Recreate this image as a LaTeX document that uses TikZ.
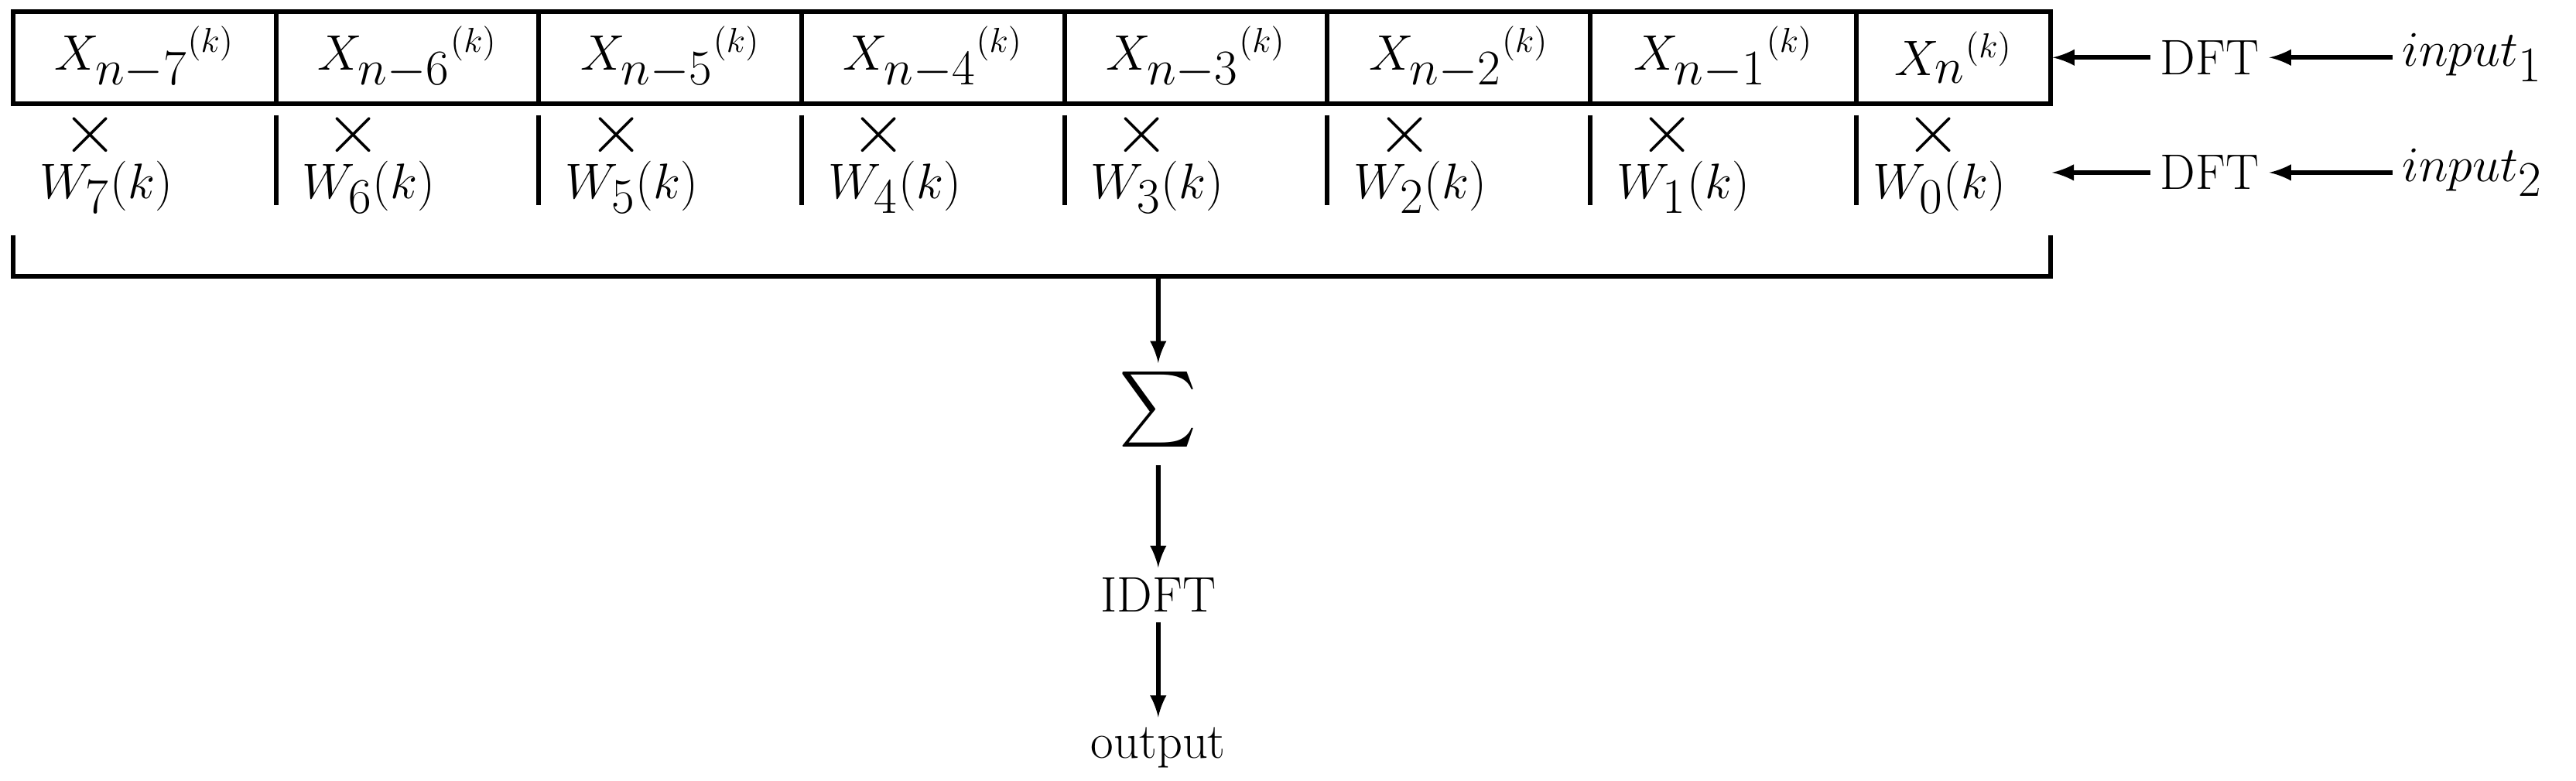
\documentclass[tikz,border=0pt]{standalone}
\usetikzlibrary{positioning}
\tikzset{
  cell/.style={draw, line width=1.6pt, minimum height=1.12cm, inner sep=0pt, font=\LARGE},
  lbl/.style={font=\LARGE, inner sep=1pt},
  flow/.style={-latex, line width=1.6pt},
  tag/.style={font=\LARGE}
}
\begin{document}
\begin{tikzpicture}[x=0.02cm, y=-0.02cm]
    \useasboundingbox (0,0) rectangle (1568,475);
    % the frame cells
    \foreach \l/\r/\i [count=\c] in {8/168/7,168/328/6,328/488/5,488/648/4,648/808/3,808/968/2,968/1130/1}{
        \node[cell, minimum width=(\r-\l)*0.02cm] (x\i) at ({(\l+\r)/2},35) {$X_{\textstyle n{-}\i}{}^{(k)}$};
        \node[lbl] (m\i) at (\l+47,82) {\Huge$\times$};
        \node[lbl, anchor=west] (w\i) at (\l+14,114) {$W_{\textstyle\i}(k)$};
    }
    \node[cell, minimum width=2.36cm] (x0) at (1189,35) {$X_{\textstyle n}{}^{(k)}$};
    \node[lbl] (m0) at (1177,82) {\Huge$\times$};
    \node[lbl, anchor=west] (w0) at (1138,114) {$W_{\textstyle 0}(k)$};
    % separators in the weight row
    \foreach \s in {168,328,488,648,808,968,1130}
        \draw[line width=1.6pt] (\s,70) -- (\s,125);
    % the bracket
    \coordinate (bl) at (8,143);
    \coordinate (br) at (1248,143);
    \coordinate (bm) at (705,168);
    \draw[line width=1.6pt] (bl) |- (bm) -| (br);
    % sum and output chain
    \node[scale=2.6, inner sep=1pt] (sum) at (705,252) {\Huge$\sum$};
    \node[tag] (idft) at (705,362) {IDFT};
    \node[tag] (out) at (705,455) {output};
    \draw[flow] (bm) -- (sum);
    \draw[flow] (sum) -- (idft);
    \draw[flow] (idft) -- (out);
    % inputs
    \node[tag] (dft1) at (1345,35) {DFT};
    \node[tag] (dft2) at (1345,105) {DFT};
    \node[tag] (in1) at (1505,35) {$input_{\textstyle 1}$};
    \node[tag] (in2) at (1505,105) {$input_{\textstyle 2}$};
    \coordinate (e2) at (1249,105);
    \draw[flow] (in1) -- (dft1);
    \draw[flow] (in2) -- (dft2);
    \draw[flow] (dft1) -- (x0);
    \draw[flow] (dft2) -- (e2);
\end{tikzpicture}
\end{document}
